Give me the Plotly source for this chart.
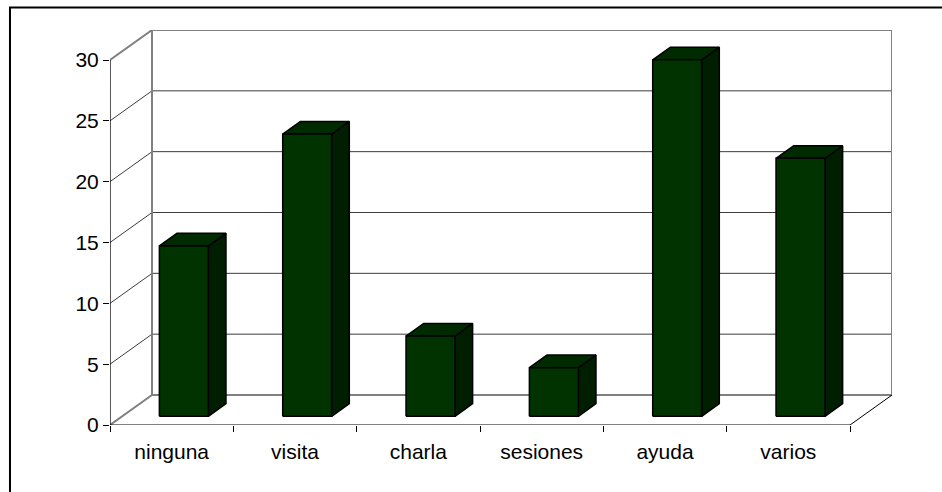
import plotly.graph_objects as go

# Survey answers and their values
categories = ["ninguna", "visita", "charla", "sesiones", "ayuda", "varios"]
values = [14.0, 23.2, 6.6, 4.0, 29.3, 21.2]
y_ticks = [0, 5, 10, 15, 20, 25, 30]
y_max = 30

# Oblique projection of the chart box (depth expressed in axis units)
DEPTH_X = 0.3405      # horizontal shift of the back wall, in category units
DEPTH_Y = 2.466       # vertical shift of the back wall, in value units
BAR_WIDTH = 0.397     # fraction of a category slot
BAR_FRONT = 0.29      # depth fraction of the bar's front face
BAR_BACK = 0.71       # depth fraction of the bar's back face

FRONT_COLOR = "#003300"
TOP_COLOR = "#002a00"
SIDE_COLOR = "#001e00"
WALL_EDGE = "#808080"
GRID_COLOR = "#3c3c3c"
FONT = "Liberation Sans, Arial, sans-serif"

n = len(categories)
fig = go.Figure()


def add_line(xs, ys, color, width):
    fig.add_trace(go.Scatter(x=xs, y=ys, mode="lines",
                             line=dict(color=color, width=width),
                             hoverinfo="skip", showlegend=False))


# Back-wall gridlines and side-wall diagonals for the inner ticks
gx, gy, sx, sy = [], [], [], []
for v in y_ticks[1:-1]:
    gx += [DEPTH_X, n + DEPTH_X, None]
    gy += [v + DEPTH_Y, v + DEPTH_Y, None]
    sx += [0, DEPTH_X, None]
    sy += [v, v + DEPTH_Y, None]
add_line(gx, gy, GRID_COLOR, 1)
add_line(sx, sy, GRID_COLOR, 1)

# Wall outlines (grey): side-wall top, back wall, floor back edges
add_line([0, DEPTH_X, n + DEPTH_X, n + DEPTH_X, DEPTH_X, DEPTH_X, 0],
         [y_max, y_max + DEPTH_Y, y_max + DEPTH_Y, DEPTH_Y, DEPTH_Y,
          y_max + DEPTH_Y, y_max],
         WALL_EDGE, 2)
add_line([0, DEPTH_X], [0, DEPTH_Y], WALL_EDGE, 2)

# Floor front/right edges and the value axis line
add_line([0, n, n + DEPTH_X], [0, 0, DEPTH_Y], "black", 1)
add_line([0, 0], [0, y_max], "black", 1.3)

# Bars: front face, top face and right side face
for i, v in enumerate(values):
    cx = i + 0.5
    fx, fy = BAR_FRONT * DEPTH_X, BAR_FRONT * DEPTH_Y
    dx, dy = (BAR_BACK - BAR_FRONT) * DEPTH_X, (BAR_BACK - BAR_FRONT) * DEPTH_Y
    xl = cx - BAR_WIDTH / 2 + fx
    xr = cx + BAR_WIDTH / 2 + fx
    yb = fy
    yt = v + fy
    faces = [
        ([xr, xr + dx, xr + dx, xr, xr], [yb, yb + dy, yt + dy, yt, yb], SIDE_COLOR),
        ([xl, xl + dx, xr + dx, xr, xl], [yt, yt + dy, yt + dy, yt, yt], TOP_COLOR),
        ([xl, xr, xr, xl, xl], [yb, yb, yt, yt, yb], FRONT_COLOR),
    ]
    for xs, ys, col in faces:
        fig.add_trace(go.Scatter(x=xs, y=ys, mode="lines", fill="toself",
                                 fillcolor=col,
                                 line=dict(color="black", width=1.5),
                                 name=categories[i], hoverinfo="name",
                                 showlegend=False))

fig.update_layout(
    width=942, height=492,
    margin=dict(l=110, r=50, t=30, b=67),
    paper_bgcolor="white", plot_bgcolor="white",
    font=dict(family=FONT, size=21, color="black"),
    showlegend=False,
    xaxis=dict(
        range=[0, n + DEPTH_X],
        tickmode="array",
        tickvals=[i + 0.5 for i in range(n)],
        ticktext=categories,
        ticks="",
        ticklabelstandoff=12,
        showgrid=False, zeroline=False, showline=False,
        minor=dict(tickvals=list(range(n + 1)), ticks="outside", ticklen=6,
                   tickwidth=1, tickcolor="black", showgrid=False),
        fixedrange=True,
    ),
    yaxis=dict(
        range=[0, y_max + DEPTH_Y],
        tickmode="array",
        tickvals=y_ticks,
        ticks="outside", ticklen=6, tickwidth=1, tickcolor="black",
        showgrid=False, zeroline=False, showline=False,
        fixedrange=True,
    ),
    shapes=[dict(type="rect", xref="paper", yref="paper",
                 x0=-0.1279, y0=-0.4, x1=1.3, y1=1.057,
                 line=dict(color="black", width=2), fillcolor="rgba(0,0,0,0)",
                 layer="above")],
)

fig.write_html("out.html")
